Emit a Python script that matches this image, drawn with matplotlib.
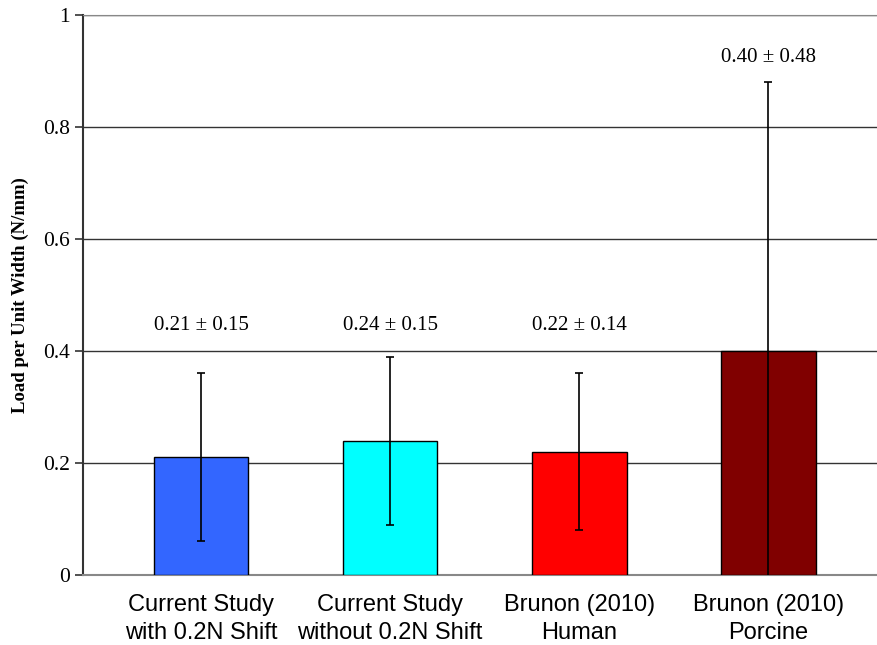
import matplotlib
matplotlib.use("Agg")
import matplotlib.pyplot as plt

groups = ["Current Study\nwith 0.2N Shift", "Current Study\nwithout 0.2N Shift",
          "Brunon (2010)\nHuman", "Brunon (2010)\nPorcine"]
means = [0.21, 0.24, 0.22, 0.40]
sds = [0.15, 0.15, 0.14, 0.48]
colors = ["#3366FF", "#00FFFF", "#FF0000", "#800000"]
label_y = [0.445, 0.445, 0.445, 0.924]
yticks = [0, 0.2, 0.4, 0.6, 0.8, 1]
ytick_labels = ["0", "0.2", "0.4", "0.6", "0.8", "1"]

serif = "Liberation Serif"
sans = "Liberation Sans"

fig = plt.figure(figsize=(8.78, 6.45), dpi=100)
ax = fig.add_axes([0.0945, 0.1085, 0.9055, 0.868])

x = list(range(len(means)))
ax.bar(x, means, width=0.5, color=colors, edgecolor="black", linewidth=1.0, zorder=3)
ax.errorbar(x, means, yerr=sds, fmt="none", ecolor="black", elinewidth=1.2,
            capsize=3, capthick=1.2, zorder=4)

for xi, m, s, ly in zip(x, means, sds, label_y):
    ax.text(xi, ly, f"{m:.2f} \u00b1 {s:.2f}", ha="center", va="center",
            family=serif, fontsize=15)

ax.set_xlim(-0.625, 3.58)
ax.set_ylim(0, 1)
ax.set_yticks(yticks)
ax.set_yticklabels(ytick_labels, family=serif, fontsize=15.5)
ax.set_xticks(x)
ax.set_xticklabels(groups, family=sans, fontsize=17, linespacing=1.3)
ax.tick_params(axis="x", length=0, pad=14)
ax.tick_params(axis="y", direction="out", length=6, width=1.2, color="#333333")
ax.yaxis.grid(True, color="#333333", linewidth=1.0, zorder=0)
ax.set_axisbelow(True)

ax.spines["right"].set_visible(False)
ax.spines["top"].set_color("#888888")
ax.spines["bottom"].set_color("#888888")
ax.spines["bottom"].set_linewidth(1.5)
ax.spines["left"].set_color("#333333")
ax.spines["left"].set_linewidth(1.5)

ax.set_ylabel("Load per Unit Width (N/mm)", family=serif, fontsize=13.5,
              fontweight="bold", labelpad=10)

fig.savefig("out.png", dpi=100)
